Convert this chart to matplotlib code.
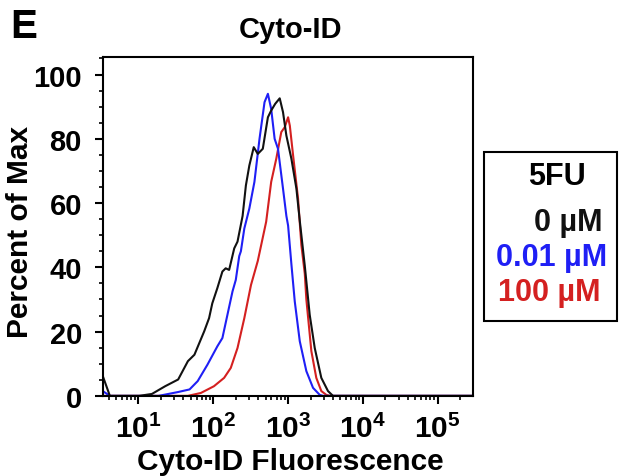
import matplotlib
matplotlib.use("Agg")
import matplotlib.pyplot as plt
import numpy as np
from matplotlib.ticker import FixedLocator, LogLocator, NullFormatter, MultipleLocator

plt.rcParams["font.family"] = ["Liberation Sans", "DejaVu Sans"]
plt.rcParams["font.weight"] = "bold"
plt.rcParams["mathtext.fontset"] = "custom"
plt.rcParams["mathtext.rm"] = "Liberation Sans"
plt.rcParams["mathtext.bf"] = "Liberation Sans:bold"

# log10 of fluorescence / percent of max
black_log = [0.523, 0.618, 1.01, 1.18, 1.357, 1.531, 1.661, 1.748, 1.879, 1.944,
             1.987, 2.054, 2.122, 2.166, 2.212, 2.280, 2.324, 2.392, 2.436, 2.482,
             2.541, 2.595, 2.662, 2.730, 2.774, 2.828, 2.888, 2.932, 2.977, 3.044,
             3.111, 3.156, 3.223, 3.289, 3.356, 3.444, 3.533, 3.60, 5.47]
black_pct = [6.2, 0.0, 0.0, 0.6, 3.0, 5.1, 10.8, 12.8, 20.1, 24.2,
             28.8, 33.5, 38.7, 39.7, 39.2, 45.9, 48.0, 56.0, 65.5, 71.7,
             77.4, 75.3, 76.9, 86.7, 88.8, 90.9, 92.6, 88.3, 81.0, 73.8,
             64.5, 54.5, 40.5, 25.2, 14.9, 5.6, 1.5, 0.0, 0.0]

blue_log = [0.523, 0.618, 1.27, 1.357, 1.531, 1.683, 1.792, 1.922, 2.054, 2.122,
            2.189, 2.257, 2.301, 2.347, 2.369, 2.415, 2.482, 2.550, 2.618, 2.685,
            2.730, 2.774, 2.820, 2.865, 2.932, 2.977, 3.0, 3.044, 3.089, 3.156,
            3.244, 3.333, 3.423, 3.467, 5.47]
blue_pct = [1.5, 0.0, 0.0, 0.4, 1.2, 2.0, 4.6, 9.7, 15.4, 18.0,
            25.2, 32.5, 36.1, 43.5, 45.0, 52.1, 58.3, 66.6, 80.0, 91.4,
            94.0, 89.3, 80.0, 76.9, 64.5, 56.0, 53.0, 41.0, 29.4, 17.0,
            7.7, 2.5, 0.3, 0.0, 0.0]

red_log = [0.523, 1.66, 1.834, 2.009, 2.145, 2.234, 2.324, 2.415, 2.504, 2.595,
           2.707, 2.774, 2.842, 2.909, 2.955, 3.0, 3.023, 3.067, 3.133, 3.177,
           3.223, 3.244, 3.311, 3.377, 3.444, 3.511, 3.56, 5.47]
red_pct = [0.0, 0.0, 0.9, 3.0, 5.6, 8.7, 14.9, 24.2, 34.5, 42.0,
           54.2, 66.6, 73.8, 82.1, 83.6, 86.7, 84.1, 74.8, 61.4, 47.0,
           38.0, 30.0, 13.9, 5.6, 1.5, 0.3, 0.0, 0.0]

series = [
    ("0 µM", black_log, black_pct, "#111111"),
    ("0.01 µM", blue_log, blue_pct, "#1f1ff5"),
    ("100 µM", red_log, red_pct, "#d42020"),
]
decades = [1, 2, 3, 4, 5]

W, H = 619, 477
fig = plt.figure(figsize=(W / 100, H / 100), dpi=100)
ax = fig.add_axes([0.166, 0.168, 0.598, 0.710])

for name, lx, pct, color in reversed(series):
    ax.plot(10 ** np.array(lx), pct, color=color, lw=1.5)

ax.set_xscale("log")
ax.set_xlim(10 ** 0.523, 10 ** 5.47)
ax.set_ylim(0, 105.4)

ax.xaxis.set_major_locator(FixedLocator([10.0 ** d for d in decades]))
ax.set_xticklabels([r"$\mathbf{10^{%d}}$" % d for d in decades])
ax.xaxis.set_minor_locator(LogLocator(base=10, subs=np.arange(2, 10), numticks=20))
ax.xaxis.set_minor_formatter(NullFormatter())
ax.yaxis.set_major_locator(MultipleLocator(20))
ax.yaxis.set_minor_locator(MultipleLocator(5))

for sp in ax.spines.values():
    sp.set_linewidth(1.5)
ax.tick_params(axis="both", which="major", length=6, width=1.5)
ax.tick_params(axis="both", which="minor", length=3, width=1.2)
ax.tick_params(axis="y", pad=9, labelsize=21)
ax.tick_params(axis="x", pad=7, labelsize=21.5)

fig.text(290 / W, 1 - 462 / H, "Cyto-ID Fluorescence", fontsize=21.5, fontweight="bold",
         ha="center", va="center")
fig.text(20 / W, 1 - 232 / H, "Percent of Max", fontsize=21.5, fontweight="bold",
         ha="center", va="center", rotation=90)
fig.text(290 / W, 1 - 30 / H, "Cyto-ID", fontsize=21, fontweight="bold",
         ha="center", va="center")
fig.text(10 / W, 1 - 27 / H, "E", fontsize=29, fontweight="bold", va="center", ha="left")

# legend box
box = plt.Rectangle((484 / W, 1 - 322 / H), 133 / W, 169 / H,
                    transform=fig.transFigure, fill=False, lw=1.5, ec="black")
fig.add_artist(box)
fig.text(557 / W, 1 - 177 / H, "5FU", fontsize=22, fontweight="bold",
         ha="center", va="center")
ys = [223, 258, 293]
xs = [602, 607, 600]
for (name, lx, pct, color), y, x in zip(series, ys, xs):
    fig.text(x / W, 1 - y / H, name, fontsize=22, fontweight="bold",
             color=color, ha="right", va="center")

fig.savefig("out.png", dpi=100)
